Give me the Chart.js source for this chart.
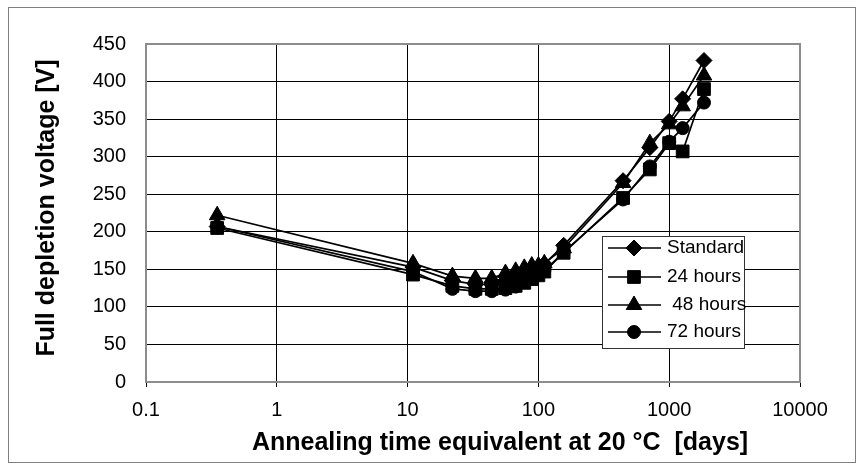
<!DOCTYPE html>
<html>
<head>
<meta charset="UTF-8" />
<script src="https://cdn.jsdelivr.net/npm/chart.js"></script>
<style>
  body { margin: 0; padding: 0; background: #fff; }
  #wrap { position: relative; width: 862px; height: 468px; }
</style>
</head>
<body>
<div id="wrap"><canvas id="chart" width="862" height="468"></canvas></div>
<script>
  // annealing times [days] and full depletion voltage [V] per series
  const days = [0.35, 11, 22, 33, 44, 56, 67, 78, 89, 100, 111, 156, 444, 711, 1000, 1267, 1845];
  const standard = [207, 153, 135, 130, 130, 135, 138, 142, 147, 152, 157, 182, 268, 312, 347, 377, 428];
  const hours24 = [205, 143, 128, 124, 124, 125, 128, 132, 137, 142, 147, 172, 245, 283, 318, 307, 390];
  const hours48 = [222, 158, 141, 138, 138, 145, 148, 152, 155, 155, 158, 178, 265, 318, 343, 367, 408];
  const hours72 = [207, 147, 124, 121, 121, 123, 127, 133, 138, 143, 148, 173, 243, 287, 320, 338, 372];

  const seriesNames = ['Standard', '24 hours', ' 48 hours', '72 hours'];
  const markers = ['rectRot', 'rect', 'triangle', 'circle'];
  const markerSizes = [8, 9, 9, 6.5];

  const xTicks = [0.1, 1, 10, 100, 1000, 10000];
  const yTicks = [0, 50, 100, 150, 200, 250, 300, 350, 400, 450];

  const FONT = '"Liberation Sans", Arial, sans-serif';

  const toPoints = vals => days.map((d, i) => ({ x: d, y: vals[i] }));
  const allSeries = [standard, hours24, hours48, hours72];

  const datasets = allSeries.map((vals, i) => ({
    label: seriesNames[i].trim(),
    data: toPoints(vals),
    borderColor: '#000',
    backgroundColor: '#000',
    borderWidth: 1.7,
    pointStyle: markers[i],
    pointRadius: markerSizes[i],
    pointBackgroundColor: '#000',
    pointBorderColor: '#000',
    pointBorderWidth: 1,
    tension: 0,
    order: 3 - i
  }));

  // outer frame and plot border
  const framePlugin = {
    id: 'frame',
    beforeDraw(chart) {
      const ctx = chart.ctx;
      ctx.save();
      ctx.fillStyle = '#fff';
      ctx.fillRect(0, 0, chart.width, chart.height);
      ctx.strokeStyle = '#7f7f7f';
      ctx.lineWidth = 1;
      ctx.strokeRect(8.5, 7.5, 847, 455);
      ctx.restore();
    },
    beforeDatasetsDraw(chart) {
      const a = chart.chartArea;
      const ctx = chart.ctx;
      ctx.save();
      ctx.strokeStyle = '#8c8c8c';
      ctx.lineWidth = 2;
      ctx.strokeRect(a.left, a.top, a.right - a.left, a.bottom - a.top);
      ctx.restore();
    }
  };

  // axis titles and the boxed legend
  const annotatePlugin = {
    id: 'annotate',
    afterDraw(chart) {
      const ctx = chart.ctx;
      ctx.save();
      ctx.fillStyle = '#000';
      ctx.font = 'bold 25px ' + FONT;
      ctx.textAlign = 'center';
      ctx.textBaseline = 'middle';
      ctx.fillText('Annealing time equivalent at 20 \u00B0C  [days]', 500, 443);
      ctx.translate(47, 208);
      ctx.rotate(-Math.PI / 2);
      ctx.fillText('Full depletion voltage [V]', 0, 0);
      ctx.restore();

      ctx.save();
      ctx.fillStyle = '#fff';
      ctx.fillRect(602, 236, 142, 112);
      ctx.strokeStyle = '#333';
      ctx.lineWidth = 1;
      ctx.strokeRect(602.5, 236.5, 142, 112);
      const rows = [248, 277, 305, 332];
      chart.data.datasets.forEach((ds, i) => {
        const y = rows[i];
        ctx.strokeStyle = '#000';
        ctx.lineWidth = 1.7;
        ctx.beginPath();
        ctx.moveTo(608, y);
        ctx.lineTo(661, y);
        ctx.stroke();
        ctx.fillStyle = '#000';
        ctx.lineWidth = 1;
        Chart.helpers.drawPoint(ctx, { pointStyle: ds.pointStyle, radius: ds.pointRadius, rotation: 0, borderWidth: 1 }, 634, y);
        ctx.fillStyle = '#000';
        ctx.font = '19px ' + FONT;
        ctx.textAlign = 'left';
        ctx.textBaseline = 'middle';
        ctx.fillText(seriesNames[i], 667, y);
      });
      ctx.restore();
    }
  };

  new Chart(document.getElementById('chart'), {
    type: 'line',
    data: { datasets },
    options: {
      responsive: false,
      animation: false,
      layout: { padding: { left: 0, top: 44, right: 62, bottom: 0 } },
      plugins: { legend: { display: false }, tooltip: { enabled: false } },
      scales: {
        x: {
          type: 'logarithmic',
          min: 0.1,
          max: 10000,
          afterBuildTicks: s => { s.ticks = xTicks.map(v => ({ value: v })); },
          afterFit: s => { s.height = 86; },
          ticks: {
            callback: v => String(v),
            color: '#000',
            font: { family: FONT, size: 20 },
            padding: 11,
            maxRotation: 0,
            autoSkip: false
          },
          grid: { color: '#000', lineWidth: 1, drawTicks: true, tickLength: 5 },
          border: { display: false }
        },
        y: {
          min: 0,
          max: 450,
          afterBuildTicks: s => { s.ticks = yTicks.map(v => ({ value: v })); },
          afterFit: s => { s.width = 146; },
          ticks: {
            color: '#000',
            font: { family: FONT, size: 20 },
            padding: 20
          },
          grid: { color: '#000', lineWidth: 1, drawTicks: false },
          border: { display: false }
        }
      }
    },
    plugins: [framePlugin, annotatePlugin]
  });
</script>
</body>
</html>
